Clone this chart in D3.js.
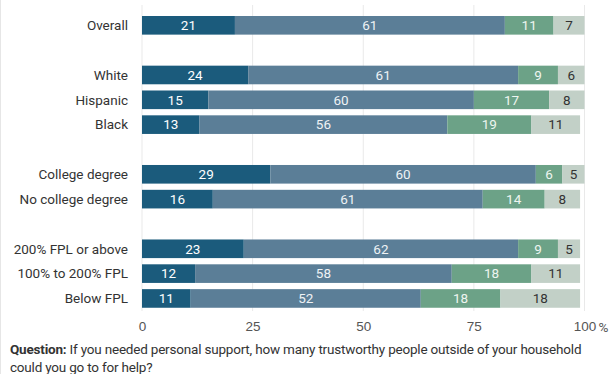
<!DOCTYPE html>
<html>
<head>
<meta charset="utf-8">
<script src="https://cdn.jsdelivr.net/npm/d3@7"></script>
<style>
  body { margin: 0; background: #fff; }
  svg { display: block; font-family: Roboto, sans-serif; }
</style>
</head>
<body>
<div id="chart"></div>
<script>
// rows, blanks are spacer rows between groups
const categories = ["Overall", "", "White", "Hispanic", "Black", " ", "College degree", "No college degree", "  ",
  "200% FPL or above", "100% to 200% FPL", "Below FPL"];
const seriesNames = ["s1", "s2", "s3", "s4"];
const s1 = [21, null, 24, 15, 13, null, 29, 16, null, 23, 12, 11];
const s2 = [61, null, 61, 60, 56, null, 60, 61, null, 62, 58, 52];
const s3 = [11, null, 9, 17, 19, null, 6, 14, null, 9, 18, 18];
const s4 = [7, null, 6, 8, 11, null, 5, 8, null, 5, 11, 18];
const xTicks = [0, 25, 50, 75, 100];

const colors = ["#1b5b7c", "#5b7e97", "#6ca287", "#c2d0c7"];
const labelColors = ["#ffffff", "#eef2f5", "#eef5f0", "#333333"];

const width = 612, height = 374;
const margin = {left: 142, right: 28};

const svg = d3.select("#chart").append("svg")
    .attr("width", width)
    .attr("height", height);

// faint frame edge on the left
svg.append("line")
    .attr("x1", 0.5).attr("x2", 0.5).attr("y1", 0).attr("y2", height)
    .attr("stroke", "#e6e6e6");

const x = d3.scaleLinear()
    .domain([0, 100])
    .range([margin.left, 584.5]);

const y = d3.scaleBand()
    .domain(categories)
    .range([12.9, 12.9 + 12 * 24.83])
    .paddingInner(0.25)
    .paddingOuter(0.125);

// gridlines
svg.append("g").selectAll("line")
    .data(xTicks)
    .enter().append("line")
    .attr("x1", d => x(d)).attr("x2", d => x(d))
    .attr("y1", 5).attr("y2", 311)
    .attr("stroke", "#e9e9e9")
    .attr("stroke-width", 1);

const data = categories.map((c, i) => ({
  name: c,
  vals: [s1[i], s2[i], s3[i], s4[i]]
})).filter(d => d.vals[0] !== null);

const rows = svg.append("g").selectAll(".row")
    .data(data)
    .enter().append("g")
    .attr("class", "row");

rows.each(function(d) {
  let start = 0;
  const g = d3.select(this);
  d.vals.forEach((v, k) => {
    g.append("rect")
      .attr("x", x(start))
      .attr("y", y(d.name))
      .attr("width", x(start + v) - x(start))
      .attr("height", y.bandwidth())
      .attr("fill", colors[k]);
    g.append("text")
      .attr("x", (x(start) + x(start + v)) / 2)
      .attr("y", y(d.name) + y.bandwidth() / 2)
      .attr("dy", "0.36em")
      .attr("text-anchor", "middle")
      .attr("font-size", 13.5)
      .attr("fill", labelColors[k])
      .text(v);
    start += v;
  });
});

// category labels
svg.append("g").selectAll("text")
    .data(data)
    .enter().append("text")
    .attr("x", 128)
    .attr("y", d => y(d.name) + y.bandwidth() / 2)
    .attr("dy", "0.36em")
    .attr("text-anchor", "end")
    .attr("font-size", 13.5)
    .attr("fill", "#333")
    .text(d => d.name);

// x axis labels
const xAxis = svg.append("g")
    .attr("transform", "translate(0,311)")
    .call(d3.axisBottom(x).tickValues(xTicks).tickSize(0).tickPadding(10));
xAxis.select(".domain").remove();
xAxis.selectAll("text")
    .attr("font-size", 13.5)
    .attr("font-family", null)
    .attr("fill", "#555");
svg.append("text")
    .attr("x", x(100) + 14)
    .attr("y", 327)
    .attr("dy", "0.36em")
    .attr("font-size", 13.5)
    .attr("fill", "#555")
    .text("%");

// question note
const note = svg.append("text")
    .attr("x", 10)
    .attr("y", 354)
    .attr("font-size", 13.5)
    .attr("letter-spacing", -0.2)
    .attr("fill", "#333");
note.append("tspan").attr("font-weight", "bold").text("Question:");
note.append("tspan").text(" If you needed personal support, how many trustworthy people outside of your household");
svg.append("text")
    .attr("x", 10)
    .attr("y", 372)
    .attr("font-size", 13.5)
    .attr("letter-spacing", -0.2)
    .attr("fill", "#333")
    .text("could you go to for help?");
</script>
</body>
</html>
